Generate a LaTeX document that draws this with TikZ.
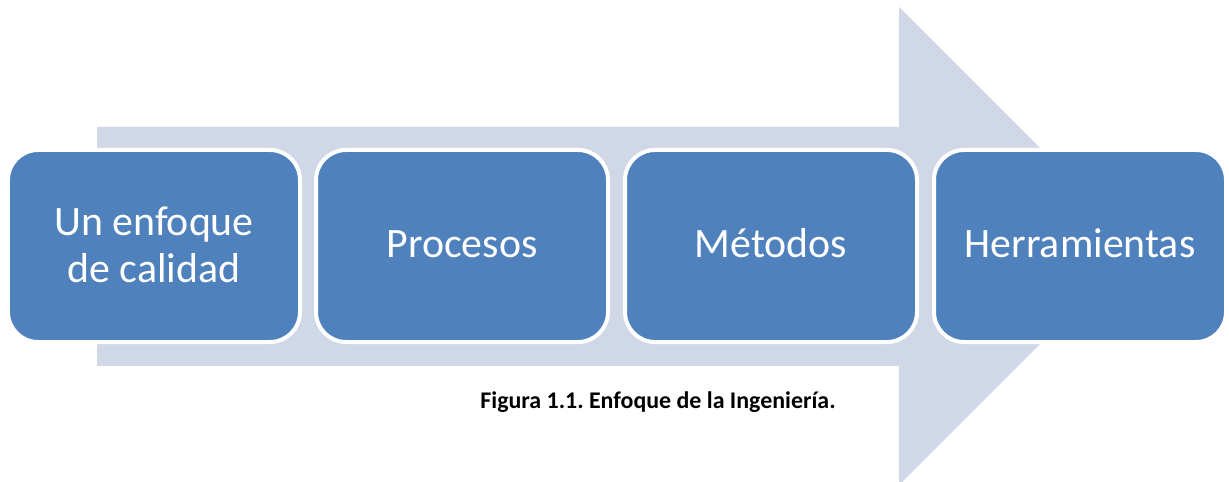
\documentclass[tikz,border=0pt]{standalone}
\usepackage{fontspec}
\setmainfont{Carlito}
\frenchspacing
\definecolor{boxblue}{HTML}{4F81BD}
\definecolor{arrowgray}{HTML}{D0D8E8}
\begin{document}
\begin{tikzpicture}[x=1bp,y=-1bp,
  stage/.style={draw=white,line width=4bp,fill=boxblue,rounded corners=30bp,
    minimum width=292bp,minimum height=192bp,text=white,align=center,
    font=\fontsize{42}{47}\selectfont,inner sep=0pt},
  caption/.style={font=\bfseries\fontsize{24}{28}\selectfont,text=black,inner sep=0pt}]
\useasboundingbox (0,0) rectangle (1229,482);
\fill[arrowgray] (97,127) -- (899,127) -- (899,7) -- (1138,246) -- (899,485) -- (899,366) -- (97,366) -- cycle;
\node[stage] (s1) at (154,246) {\raisebox{3bp}{Un enfoque}\\\raisebox{3bp}{de calidad}};
\node[stage,text height=30bp,text depth=6bp] (s2) at (462,246) {Procesos};
\node[stage,text height=30bp,text depth=6bp] (s3) at (771,246) {Métodos};
\node[stage,text height=30bp,text depth=6bp] (s4) at (1080,246) {Herramientas};
\node[caption,anchor=base] (cap) at (658,408) {Figura 1.1. Enfoque de la Ingeniería.};
\end{tikzpicture}
\end{document}
